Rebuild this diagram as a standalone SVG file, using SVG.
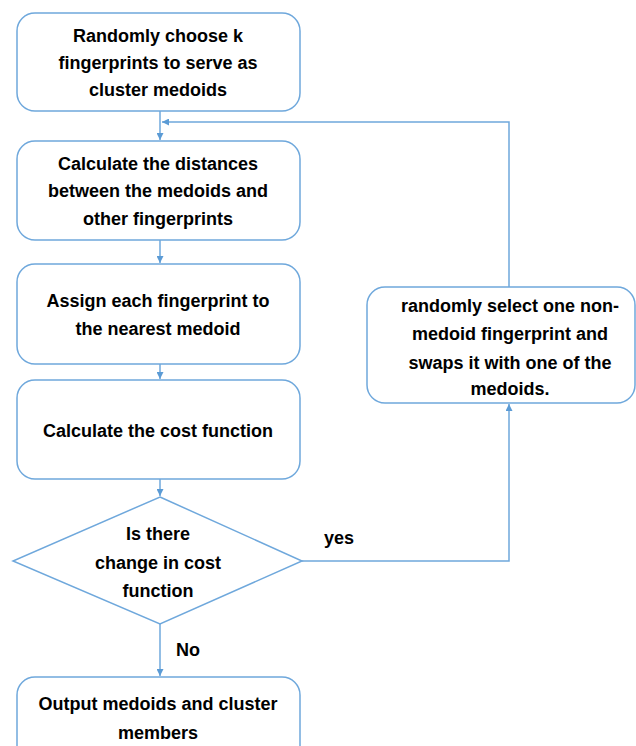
<svg xmlns="http://www.w3.org/2000/svg" width="636" height="746" viewBox="0 0 636 746">
<style>
.box{fill:#fff;stroke:#6fa8dc;stroke-width:1.5}
.ln{fill:none;stroke:#6fa8dc;stroke-width:1.5}
text{font-family:"Liberation Sans",Arial,sans-serif;font-weight:bold;font-size:18px;fill:#000;text-anchor:middle}
</style>
<defs>
<marker id="ah" viewBox="0 0 10 10" refX="10" refY="5" markerWidth="7" markerHeight="7" markerUnits="userSpaceOnUse" orient="auto">
<path d="M0,0 L10,5 L0,10 z" fill="#5b9bd5"/>
</marker>
</defs>
<rect width="636" height="746" fill="#fff"/>
<g id="connectors">
<line class="ln" x1="160" y1="111" x2="160" y2="140" marker-end="url(#ah)"/>
<line class="ln" x1="160" y1="240" x2="160" y2="263" marker-end="url(#ah)"/>
<line class="ln" x1="160" y1="364" x2="160" y2="379" marker-end="url(#ah)"/>
<line class="ln" x1="160" y1="479" x2="160" y2="496" marker-end="url(#ah)"/>
<line class="ln" x1="160" y1="624" x2="160" y2="676" marker-end="url(#ah)"/>
<polyline class="ln" points="302,561 509,561 509,404" marker-end="url(#ah)"/>
<polyline class="ln" points="509,287 509,122 162,122" marker-end="url(#ah)"/>
<text x="188" y="656">No</text>
<text x="339" y="544">yes</text>
</g>
<g id="n1">
<rect class="box" x="17" y="13" width="283" height="98" rx="18"/>
<text x="158" y="42">Randomly choose k</text>
<text x="158" y="69">fingerprints to serve as</text>
<text x="158" y="96">cluster medoids</text>
</g>
<g id="n2">
<rect class="box" x="17" y="141" width="283" height="99" rx="18"/>
<text x="158" y="170">Calculate the distances</text>
<text x="158" y="197">between the medoids and</text>
<text x="158" y="225">other fingerprints</text>
</g>
<g id="n3">
<rect class="box" x="17" y="264" width="283" height="100" rx="18"/>
<text x="158" y="307">Assign each fingerprint to</text>
<text x="158" y="335">the nearest medoid</text>
</g>
<g id="n4">
<rect class="box" x="17" y="380" width="283" height="99" rx="18"/>
<text x="158" y="437">Calculate the cost function</text>
</g>
<g id="n5">
<polygon class="box" points="160,497 302,561 160,624 13,561"/>
<text x="158" y="540">Is there</text>
<text x="158" y="569">change in cost</text>
<text x="158" y="597">function</text>
</g>
<g id="n6">
<rect class="box" x="367" y="287" width="268" height="116" rx="18"/>
<text x="510" y="312">randomly select one non-</text>
<text x="510" y="340">medoid fingerprint and</text>
<text x="510" y="369">swaps it with one of the</text>
<text x="510" y="395">medoids.</text>
</g>
<g id="n7">
<rect class="box" x="17" y="677" width="283" height="100" rx="18"/>
<text x="158" y="710">Output medoids and cluster</text>
<text x="158" y="739">members</text>
</g>
</svg>
